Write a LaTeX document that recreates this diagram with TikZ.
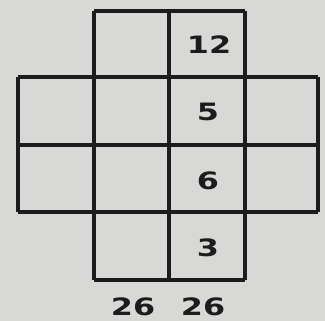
\documentclass[tikz,border=0pt]{standalone}
\usepackage{fontspec}
\setmainfont{DejaVu Sans}
\definecolor{paper}{RGB}{216,216,214}
\definecolor{ink}{RGB}{28,28,28}
\tikzset{
  gridline/.style={draw=ink, line width=4.4bp, line cap=square},
  num/.style={text=ink, font=\fontsize{24}{24}\selectfont\bfseries, inner sep=0pt, xscale=1.33}
}
\begin{document}
\begin{tikzpicture}[x=1bp, y=-1bp]
\fill[paper] (0,0) rectangle (325,321);
\useasboundingbox (0,0) rectangle (325,321);
% horizontal lines
\draw[gridline] (94,11) -- (245,11);
\draw[gridline] (18,77) -- (318,77);
\draw[gridline] (18,145) -- (318,145);
\draw[gridline] (18,212) -- (318,212);
\draw[gridline] (94,280) -- (245,280);
% vertical lines
\draw[gridline] (18,77) -- (18,212);
\draw[gridline] (94,11) -- (94,280);
\draw[gridline] (169,11) -- (169,280);
\draw[gridline] (245,11) -- (245,280);
\draw[gridline] (318,77) -- (318,212);
% numbers
\node[num] (n12) at (209,45) {12};
\node[num] (n5) at (208,112) {5};
\node[num] (n6) at (208,181) {6};
\node[num] (n3) at (208,248) {3};
\node[num] (s1) at (133,307) {26};
\node[num] (s2) at (203,307) {26};
\end{tikzpicture}
\end{document}
